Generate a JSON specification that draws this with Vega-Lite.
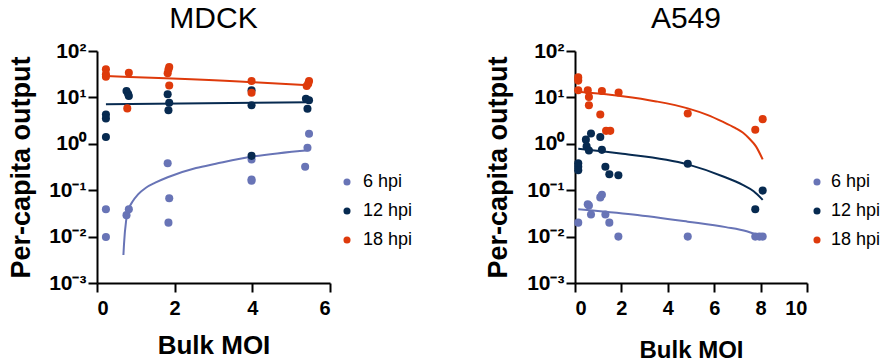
{
  "$schema": "https://vega.github.io/schema/vega-lite/v6.json",
  "background": "white",
  "padding": {"left": 6, "top": 4, "right": 5, "bottom": 2},
  "config": {
    "view": {"stroke": null},
    "font": "Liberation Sans",
    "axis": {
      "grid": false,
      "domainColor": "black",
      "domainWidth": 2,
      "tickColor": "black",
      "tickWidth": 2,
      "tickSize": 9,
      "labelFont": "Liberation Sans",
      "labelFontWeight": "bold",
      "labelFontSize": 20,
      "labelColor": "black",
      "titleFont": "Liberation Sans",
      "titleFontWeight": "bold",
      "titleColor": "black"
    },
    "title": {"font": "Liberation Sans", "fontSize": 30, "fontWeight": "normal", "color": "black", "anchor": "middle", "frame": "group", "offset": 6}
  },
  "datasets": {
    "mdck_pts": [
      {"moi": 0.23, "val": 0.039, "t": "6 hpi"},
      {"moi": 0.23, "val": 0.0098, "t": "6 hpi"},
      {"moi": 0.76, "val": 0.029, "t": "6 hpi"},
      {"moi": 0.82, "val": 0.039, "t": "6 hpi"},
      {"moi": 1.82, "val": 0.38, "t": "6 hpi"},
      {"moi": 1.86, "val": 0.067, "t": "6 hpi"},
      {"moi": 1.84, "val": 0.02, "t": "6 hpi"},
      {"moi": 3.98, "val": 0.46, "t": "6 hpi"},
      {"moi": 3.98, "val": 0.17, "t": "6 hpi"},
      {"moi": 3.98, "val": 0.16, "t": "6 hpi"},
      {"moi": 5.46, "val": 1.65, "t": "6 hpi"},
      {"moi": 5.42, "val": 0.82, "t": "6 hpi"},
      {"moi": 5.36, "val": 0.32, "t": "6 hpi"},
      {"moi": 0.23, "val": 4.3, "t": "12 hpi"},
      {"moi": 0.23, "val": 3.5, "t": "12 hpi"},
      {"moi": 0.23, "val": 1.4, "t": "12 hpi"},
      {"moi": 0.76, "val": 13.7, "t": "12 hpi"},
      {"moi": 0.8, "val": 12, "t": "12 hpi"},
      {"moi": 0.82, "val": 10.7, "t": "12 hpi"},
      {"moi": 1.82, "val": 11.7, "t": "12 hpi"},
      {"moi": 1.86, "val": 7.7, "t": "12 hpi"},
      {"moi": 1.84, "val": 5.3, "t": "12 hpi"},
      {"moi": 3.98, "val": 14.2, "t": "12 hpi"},
      {"moi": 3.98, "val": 6.8, "t": "12 hpi"},
      {"moi": 3.98, "val": 0.55, "t": "12 hpi"},
      {"moi": 5.38, "val": 9.3, "t": "12 hpi"},
      {"moi": 5.46, "val": 8.7, "t": "12 hpi"},
      {"moi": 5.42, "val": 5.7, "t": "12 hpi"},
      {"moi": 0.23, "val": 40.4, "t": "18 hpi"},
      {"moi": 0.23, "val": 31.5, "t": "18 hpi"},
      {"moi": 0.23, "val": 27.9, "t": "18 hpi"},
      {"moi": 0.82, "val": 34, "t": "18 hpi"},
      {"moi": 0.78, "val": 5.8, "t": "18 hpi"},
      {"moi": 1.86, "val": 45, "t": "18 hpi"},
      {"moi": 1.84, "val": 40, "t": "18 hpi"},
      {"moi": 1.82, "val": 33, "t": "18 hpi"},
      {"moi": 1.86, "val": 18, "t": "18 hpi"},
      {"moi": 3.98, "val": 22.5, "t": "18 hpi"},
      {"moi": 3.98, "val": 12.6, "t": "18 hpi"},
      {"moi": 5.46, "val": 22.5, "t": "18 hpi"},
      {"moi": 5.44, "val": 19.8, "t": "18 hpi"},
      {"moi": 5.4, "val": 17.6, "t": "18 hpi"}
    ],
    "mdck_fit": [
      {"moi": 0.68, "val": 0.004, "t": "6 hpi"},
      {"moi": 0.695, "val": 0.0068, "t": "6 hpi"},
      {"moi": 0.75, "val": 0.022, "t": "6 hpi"},
      {"moi": 0.79, "val": 0.033, "t": "6 hpi"},
      {"moi": 0.83, "val": 0.042, "t": "6 hpi"},
      {"moi": 0.92, "val": 0.058, "t": "6 hpi"},
      {"moi": 1.05, "val": 0.08, "t": "6 hpi"},
      {"moi": 1.26, "val": 0.113, "t": "6 hpi"},
      {"moi": 1.5, "val": 0.145, "t": "6 hpi"},
      {"moi": 1.82, "val": 0.19, "t": "6 hpi"},
      {"moi": 2.55, "val": 0.3, "t": "6 hpi"},
      {"moi": 3.06, "val": 0.37, "t": "6 hpi"},
      {"moi": 4.0, "val": 0.53, "t": "6 hpi"},
      {"moi": 5.45, "val": 0.73, "t": "6 hpi"},
      {"moi": 0.23, "val": 7.1, "t": "12 hpi"},
      {"moi": 2.8, "val": 7.5, "t": "12 hpi"},
      {"moi": 5.45, "val": 7.9, "t": "12 hpi"},
      {"moi": 0.23, "val": 28.9, "t": "18 hpi"},
      {"moi": 4.0, "val": 21.3, "t": "18 hpi"},
      {"moi": 5.45, "val": 18.2, "t": "18 hpi"}
    ],
    "a549_pts": [
      {"moi": 0.14, "val": 0.02, "t": "6 hpi"},
      {"moi": 0.55, "val": 0.05, "t": "6 hpi"},
      {"moi": 0.6, "val": 0.047, "t": "6 hpi"},
      {"moi": 0.69, "val": 0.03, "t": "6 hpi"},
      {"moi": 1.09, "val": 0.07, "t": "6 hpi"},
      {"moi": 1.16, "val": 0.08, "t": "6 hpi"},
      {"moi": 1.31, "val": 0.03, "t": "6 hpi"},
      {"moi": 1.48, "val": 0.02, "t": "6 hpi"},
      {"moi": 1.87, "val": 0.01, "t": "6 hpi"},
      {"moi": 4.86, "val": 0.01, "t": "6 hpi"},
      {"moi": 7.77, "val": 0.01, "t": "6 hpi"},
      {"moi": 7.95, "val": 0.01, "t": "6 hpi"},
      {"moi": 8.09, "val": 0.01, "t": "6 hpi"},
      {"moi": 0.14, "val": 0.38, "t": "12 hpi"},
      {"moi": 0.14, "val": 0.32, "t": "12 hpi"},
      {"moi": 0.14, "val": 0.27, "t": "12 hpi"},
      {"moi": 0.47, "val": 1.23, "t": "12 hpi"},
      {"moi": 0.5, "val": 0.88, "t": "12 hpi"},
      {"moi": 0.6, "val": 0.72, "t": "12 hpi"},
      {"moi": 0.69, "val": 1.66, "t": "12 hpi"},
      {"moi": 1.09, "val": 1.4, "t": "12 hpi"},
      {"moi": 1.16, "val": 0.74, "t": "12 hpi"},
      {"moi": 1.31, "val": 0.32, "t": "12 hpi"},
      {"moi": 1.48, "val": 0.22, "t": "12 hpi"},
      {"moi": 1.87, "val": 0.21, "t": "12 hpi"},
      {"moi": 4.86, "val": 0.37, "t": "12 hpi"},
      {"moi": 7.77, "val": 0.039, "t": "12 hpi"},
      {"moi": 8.09, "val": 0.098, "t": "12 hpi"},
      {"moi": 0.14, "val": 27, "t": "18 hpi"},
      {"moi": 0.14, "val": 23, "t": "18 hpi"},
      {"moi": 0.14, "val": 14.3, "t": "18 hpi"},
      {"moi": 0.55, "val": 14.3, "t": "18 hpi"},
      {"moi": 0.6, "val": 10.2, "t": "18 hpi"},
      {"moi": 0.6, "val": 6.8, "t": "18 hpi"},
      {"moi": 1.09, "val": 4.3, "t": "18 hpi"},
      {"moi": 1.16, "val": 13.8, "t": "18 hpi"},
      {"moi": 1.34, "val": 1.9, "t": "18 hpi"},
      {"moi": 1.52, "val": 1.9, "t": "18 hpi"},
      {"moi": 1.88, "val": 12.8, "t": "18 hpi"},
      {"moi": 4.86, "val": 4.5, "t": "18 hpi"},
      {"moi": 7.77, "val": 2.0, "t": "18 hpi"},
      {"moi": 8.09, "val": 3.4, "t": "18 hpi"}
    ],
    "a549_fit": [
      {"moi": 0.14, "val": 0.039, "t": "6 hpi"},
      {"moi": 2.5, "val": 0.03, "t": "6 hpi"},
      {"moi": 4.86, "val": 0.021, "t": "6 hpi"},
      {"moi": 6.5, "val": 0.016, "t": "6 hpi"},
      {"moi": 7.4, "val": 0.013, "t": "6 hpi"},
      {"moi": 8.09, "val": 0.0096, "t": "6 hpi"},
      {"moi": 0.14, "val": 0.78, "t": "12 hpi"},
      {"moi": 2.05, "val": 0.61, "t": "12 hpi"},
      {"moi": 4.86, "val": 0.36, "t": "12 hpi"},
      {"moi": 6.36, "val": 0.2, "t": "12 hpi"},
      {"moi": 7.23, "val": 0.13, "t": "12 hpi"},
      {"moi": 7.7, "val": 0.095, "t": "12 hpi"},
      {"moi": 8.09, "val": 0.062, "t": "12 hpi"},
      {"moi": 0.14, "val": 13.2, "t": "18 hpi"},
      {"moi": 2.05, "val": 10.6, "t": "18 hpi"},
      {"moi": 3.5, "val": 8.2, "t": "18 hpi"},
      {"moi": 4.86, "val": 5.8, "t": "18 hpi"},
      {"moi": 5.7, "val": 4.2, "t": "18 hpi"},
      {"moi": 6.36, "val": 3.0, "t": "18 hpi"},
      {"moi": 6.9, "val": 2.2, "t": "18 hpi"},
      {"moi": 7.23, "val": 1.75, "t": "18 hpi"},
      {"moi": 7.51, "val": 1.3, "t": "18 hpi"},
      {"moi": 7.8, "val": 0.88, "t": "18 hpi"},
      {"moi": 8.09, "val": 0.46, "t": "18 hpi"}
    ]
  },
  "hconcat": [
    {
      "width": 233,
      "height": 232,
      "title": {"text": "MDCK"},
      "layer": [
        {
          "data": {"name": "mdck_fit"},
          "mark": {"type": "line", "strokeWidth": 2, "interpolate": "monotone"},
          "encoding": {
            "x": {"field": "moi", "type": "quantitative", "scale": {"domain": [0, 6], "nice": false, "zero": false}, "axis": {"title": "Bulk MOI", "values": [0, 2, 4, 6], "labelPadding": 6, "titleFontSize": 26, "titleY": 70, "titleBaseline": "alphabetic"}},
            "y": {"field": "val", "type": "quantitative", "scale": {"type": "log", "domain": [0.001, 100], "nice": false}, "axis": {"title": "Per-capita output", "values": [0.001, 0.01, 0.1, 1, 10, 100], "labelExpr": "['10⁻³','10⁻²','10⁻¹','10⁰','10¹','10²'][round(log(datum.value)/LN10)+3]", "labelPadding": 2, "labelFontSize": 21, "titleFontSize": 27, "titleX": -76, "titleY": 116, "titleAngle": -90, "titleAlign": "center", "titleBaseline": "middle"}},
            "stroke": {"field": "t", "type": "nominal", "scale": {"domain": ["18 hpi", "12 hpi", "6 hpi"], "range": ["#DE3A0B", "#072A50", "#6874B6"]}, "legend": null}
          }
        },
        {
          "data": {"name": "mdck_pts"},
          "mark": {"type": "circle", "size": 65, "opacity": 1},
          "encoding": {
            "x": {"field": "moi", "type": "quantitative"},
            "y": {"field": "val", "type": "quantitative"},
            "color": {"field": "t", "type": "nominal", "scale": {"domain": ["6 hpi", "12 hpi", "18 hpi"], "range": ["#6874B6", "#072A50", "#DE3A0B"]},
              "legend": {"orient": "none", "legendX": 241, "legendY": 122, "title": null, "symbolType": "circle", "symbolSize": 50, "labelFontSize": 18, "labelFont": "Liberation Sans", "labelColor": "black", "rowPadding": 11, "labelOffset": 7}}
          }
        }
      ]
    },
    {
      "width": 232,
      "height": 232,
      "title": {"text": "A549", "dx": -5},
      "layer": [
        {
          "data": {"name": "a549_fit"},
          "mark": {"type": "line", "strokeWidth": 2, "interpolate": "monotone"},
          "encoding": {
            "x": {"field": "moi", "type": "quantitative", "scale": {"domain": [0, 10], "nice": false, "zero": false}, "axis": {"title": "Bulk MOI", "values": [0, 2, 4, 6, 8, 10], "labelPadding": 6, "titleFontSize": 24, "titleY": 74, "titleBaseline": "alphabetic"}},
            "y": {"field": "val", "type": "quantitative", "scale": {"type": "log", "domain": [0.001, 100], "nice": false}, "axis": {"title": "Per-capita output", "values": [0.001, 0.01, 0.1, 1, 10, 100], "labelExpr": "['10⁻³','10⁻²','10⁻¹','10⁰','10¹','10²'][round(log(datum.value)/LN10)+3]", "labelPadding": 2, "labelFontSize": 21, "titleFontSize": 27, "titleX": -77, "titleY": 116, "titleAngle": -90, "titleAlign": "center", "titleBaseline": "middle"}},
            "stroke": {"field": "t", "type": "nominal", "scale": {"domain": ["18 hpi", "12 hpi", "6 hpi"], "range": ["#DE3A0B", "#072A50", "#6874B6"]}, "legend": null}
          }
        },
        {
          "data": {"name": "a549_pts"},
          "mark": {"type": "circle", "size": 65, "opacity": 1},
          "encoding": {
            "x": {"field": "moi", "type": "quantitative"},
            "y": {"field": "val", "type": "quantitative"},
            "color": {"field": "t", "type": "nominal", "scale": {"domain": ["6 hpi", "12 hpi", "18 hpi"], "range": ["#6874B6", "#072A50", "#DE3A0B"]},
              "legend": {"orient": "none", "legendX": 233, "legendY": 122, "title": null, "symbolType": "circle", "symbolSize": 50, "labelFontSize": 18, "labelFont": "Liberation Sans", "labelColor": "black", "rowPadding": 11, "labelOffset": 5}}
          }
        }
      ]
    }
  ],
  "spacing": 245,
  "bounds": "flush",
  "resolve": {"scale": {"color": "independent", "stroke": "independent", "x": "independent", "y": "independent"}, "legend": {"color": "independent"}}
}
